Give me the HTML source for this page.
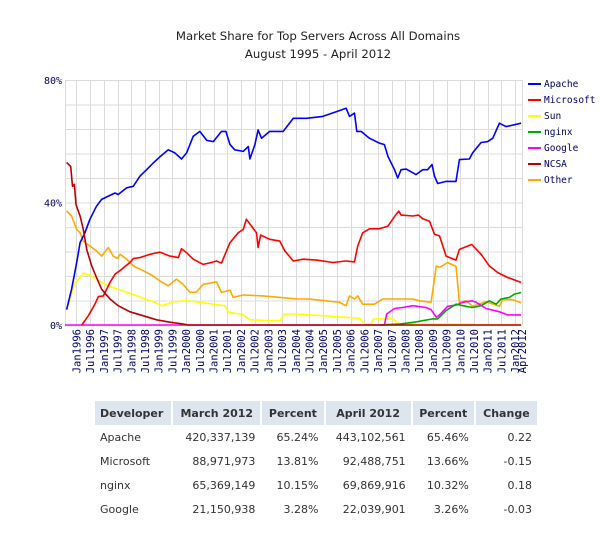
<!DOCTYPE html>
<html><head><meta charset="utf-8">
<style>
body{margin:0;background:#fff;width:600px;height:540px;overflow:hidden;font-family:"DejaVu Sans","Liberation Sans",sans-serif;}
#chart{position:absolute;left:0;top:0}
table{position:absolute;left:93px;top:401px;border-collapse:separate;border-spacing:2px 0;font-size:11px;color:#333;table-layout:fixed;width:446px}
th{background:#dde6ee;height:24px;padding:0 5px;font-weight:bold;color:#333;white-space:nowrap;overflow:hidden}
td{height:24px;padding:0 5px;text-align:right;white-space:nowrap}
td:first-child{text-align:left}
</style></head><body>
<svg id="chart" width="600" height="395" xmlns="http://www.w3.org/2000/svg"></svg>
<table>
<colgroup><col style="width:76px"><col style="width:87px"><col style="width:61px"><col style="width:85px"><col style="width:61px"><col style="width:61px"></colgroup>
<tr><th style="text-align:left">Developer</th><th>March 2012</th><th>Percent</th><th>April 2012</th><th>Percent</th><th>Change</th></tr>
<tr><td>Apache</td><td>420,337,139</td><td>65.24%</td><td>443,102,561</td><td>65.46%</td><td>0.22</td></tr>
<tr><td>Microsoft</td><td>88,971,973</td><td>13.81%</td><td>92,488,751</td><td>13.66%</td><td>-0.15</td></tr>
<tr><td>nginx</td><td>65,369,149</td><td>10.15%</td><td>69,869,916</td><td>10.32%</td><td>0.18</td></tr>
<tr><td>Google</td><td>21,150,938</td><td>3.28%</td><td>22,039,901</td><td>3.26%</td><td>-0.03</td></tr>
</table>
<script>
// months since Aug 1995, percentage values
const apacheM=[0.7,2.9,5.1,6.6,8.7,10.9,13.8,16.0,19.0,21.9,23.3,27.0,29.9,32.8,35.7,38.6,41.5,45.2,48.1,51.0,53.2,56.1,59.0,62.0,64.9,68.5,70.4,72.2,74.3,78.0,80.2,80.9,83.1,84.5,86.0,89.6,95.5,99.9,105.7,112.8,119,123,124.5,126.7,127.7,129.6,133.2,137.6,139.8,141.3,144.2,145.6,147.1,149.3,153.6,156.6,158.7,160.6,161.7,163.1,166.8,171.1,172.6,177,178.4,182.1,185,187.2,190.1,193,199.6];
const apacheV=[5.0,11.7,20.4,26.9,30.1,34.5,38.8,41.0,42.1,43.1,42.6,44.8,45.3,48.6,50.7,52.9,54.9,57.2,56.2,54.2,56.2,61.6,63.2,60.3,59.9,63.2,63.2,58.9,57.2,56.7,58.3,54.2,58.9,63.7,61.0,63.2,63.2,67.5,67.5,68.1,69.7,70.8,68.1,69.2,63.2,63.2,61.0,59.4,58.9,55.1,50.7,48.0,50.7,50.9,49.1,50.7,50.7,52.4,48.6,46.2,46.9,46.9,54.0,54.2,56.2,59.6,59.9,61.0,65.9,64.8,65.9];
const msM=[7.3,10.2,13.1,14.6,16.8,19.7,21.9,24.8,28.4,29.9,32.8,37.2,41.5,45.9,49.6,51.0,53.2,56.1,60.5,64.1,66.3,68.5,70.7,72.2,75.8,78.0,79.4,81.6,83.8,84.5,85.6,89.6,94.0,96.2,99.9,104.2,110.1,117.2,123,126.7,128.1,130.3,133.2,137.6,141.3,144.9,146.1,147.1,152.2,154.7,156.6,159.5,161.7,163.9,166.8,171.1,172.6,178,182.1,185.7,189.4,193.7,199.6];
const msV=[0,3.0,6.8,9.3,9.5,13.9,16.6,18.2,20.4,21.7,22.0,23.1,23.8,22.5,22.0,24.9,23.6,21.5,19.8,20.4,20.9,20.2,24.2,26.9,30.1,31.2,34.5,32.3,30.1,25.3,29.4,28.0,27.4,24.2,20.9,21.5,21.2,20.4,20.9,20.6,25.8,30.1,31.4,31.4,32.3,36.1,37.2,35.9,35.6,35.9,34.7,33.9,29.6,29.1,22.5,21.2,24.7,26.3,23.1,19.3,17.1,15.5,13.9];
const sunM=[0.7,2.2,4.4,6.6,8.0,10.9,13.8,17.5,21.1,25.5,29.9,34.3,38.6,42.3,44.5,47.4,53.2,59.0,64.9,70.0,71.4,78.0,80.9,89.6,94.0,96.2,101.3,114.3,118.7,128.9,131.1,134,135,143.5,146.4,178.4,179.1,199.6];
const sunV=[5.2,8.5,13.9,15.5,16.9,16.3,15.0,13.3,12.2,11.1,10.0,8.7,7.6,6.3,6.8,7.6,7.9,7.4,6.8,6.3,4.3,3.3,1.7,1.4,1.4,3.6,3.6,3.0,2.7,2.2,0.3,0.3,2.0,2.0,0.3,0.3,0,0];
const nginxM=[137.6,146.4,152.9,160.9,163.1,166.8,171.1,175.5,178.4,182.1,185.7,188.7,190.8,194.5,196.7,199.6];
const nginxV=[0,0.3,0.9,2.0,2.0,4.7,6.8,6.1,5.7,6.3,7.9,6.8,8.5,9.0,10.1,10.6];
const googleM=[0,137.6,139.8,140.8,144.2,147.8,152.2,158.0,160.2,162.5,163.9,167.5,171.1,174.1,178,179.9,184.3,190.1,193.7,199.6];
const googleV=[0,0,0,3.6,5.4,5.7,6.3,5.7,5.0,2.5,3.3,6.1,6.5,7.4,7.9,7.4,5.4,4.3,3.3,3.3];
const ncsaM=[0.7,2.5,3.3,4.1,4.8,6.6,8.0,9.5,11.7,13.8,16.0,19.7,23.3,28.4,34.3,40.1,45.9,51.7,53.9,199.6];
const ncsaV=[53.1,51.8,45.3,45.9,39.3,35.6,31.2,24.7,19.3,15.5,11.7,8.5,6.3,4.3,3.0,1.7,0.9,0.3,0,0];
const otherM=[0.7,2.9,5.1,6.6,8.0,10.9,13.8,16.0,19.0,21.1,22.9,24.1,27.0,29.9,34.3,38.6,41.5,45.2,48.8,51.7,54.7,57.6,60.5,66.3,68.5,72.2,73.6,78.0,86.7,95.5,101.3,107,114.3,120.1,123,124.5,126.7,128.1,130.3,135.4,139.1,146.4,152.2,155.1,160.2,162.5,163.9,167.5,171.1,172.6,175.5,178.4,184.3,190.1,191.5,195.9,199.6];
const otherV=[37.2,35.6,31.2,30.1,27.4,25.8,24.2,22.5,25.3,22.5,21.7,23.1,21.5,19.3,17.7,16.0,14.4,12.8,15.0,13.3,10.6,10.8,13.3,14.1,10.6,11.4,9.0,9.8,9.5,8.9,8.5,8.5,7.9,7.4,6.3,9.5,8.5,9.5,6.8,6.8,8.5,8.5,8.5,7.9,7.4,19.3,18.8,20.4,19.1,7.4,7.9,6.1,7.6,6.1,8.3,8.3,7.2];
const yTicks=[0,40,80];
const legendNames=["Apache","Microsoft","Sun","nginx","Google","NCSA","Other"];
const colors=["#0000ff","#ff0000","#ffff00","#00aa00","#ff00ff","#bb0000","#ffaa00"];

const NS="http://www.w3.org/2000/svg";
const svg=document.getElementById('chart');
const X0=65,PXM=2.285,Y0=325,PXV=245/80;
const xs=m=>X0+m*PXM, ys=v=>Y0-v*PXV;
function mk(t,a,p){const e=document.createElementNS(NS,t);for(const k in a)e.setAttribute(k,a[k]);(p||svg).appendChild(e);return e;}
let t=mk('text',{x:318,y:40,'text-anchor':'middle','font-size':'11.7','fill':'#222','font-family':'DejaVu Sans,sans-serif'});


t.textContent='Market Share for Top Servers Across All Domains';
t=mk('text',{x:318,y:58,'text-anchor':'middle','font-size':'11.7','fill':'#222','font-family':'DejaVu Sans,sans-serif'});


t.textContent='August 1995 - April 2012';
const g=mk('g',{stroke:'#dcdcdc','stroke-width':1});


for(let v=0;v<=80;v+=8){mk('line',{x1:X0,x2:xs(200),y1:ys(v)+.5,y2:ys(v)+.5},g);}
mk('line',{x1:X0+.5,x2:X0+.5,y1:ys(80),y2:Y0},g);
const months=["Jan","Jul"];
const labels=[];
for(let yr=1996;yr<=2012;yr++){for(let h=0;h<2;h++){const m=(yr-1995)*12-7+h*6;if(m>200)continue;labels.push([m,months[h]+yr]);}}
labels.push([200,'Apr2012']);
for(const [m] of labels){mk('line',{x1:Math.round(xs(m))+.5,x2:Math.round(xs(m))+.5,y1:ys(80),y2:Y0},g);}
for(const v of yTicks){t=mk('text',{x:62,y:ys(v)+4,'text-anchor':'end','font-size':'10','fill':'#000066','font-family':'DejaVu Sans Mono,monospace'});


t.textContent=v+'%';}
for(const [m,l] of labels){const x=xs(m)+4;t=mk('text',{x:0,y:0,transform:`translate(${x},329) rotate(-90)`,'text-anchor':'end','font-size':'10.5','fill':'#000066','font-family':'DejaVu Sans Mono,monospace'});


t.textContent=l;}
const series=[[sunM,sunV,2],[otherM,otherV,6],[googleM,googleV,4],[nginxM,nginxV,3],[msM,msV,1],[apacheM,apacheV,0],[ncsaM,ncsaV,5]];
for(const [M,V,i] of series){const d=M.map((m,k)=>(k?'L':'M')+xs(m).toFixed(1)+','+ys(V[k]).toFixed(1)).join('');
const p=mk('path',{d:d,fill:'none',stroke:colors[i],'stroke-width':1.6,'stroke-linejoin':'round'});

}
legendNames.forEach((n,i)=>{const y=84+i*16;
const lg=mk('g',{});


mk('line',{x1:528,x2:541,y1:y,y2:y,stroke:colors[i],'stroke-width':2},lg);
const tt=mk('text',{x:544,y:y+3,'font-size':'9.5','fill':'#000066','font-family':'DejaVu Sans Mono,monospace'},lg);
tt.textContent=n;});
</script>
</body></html>
